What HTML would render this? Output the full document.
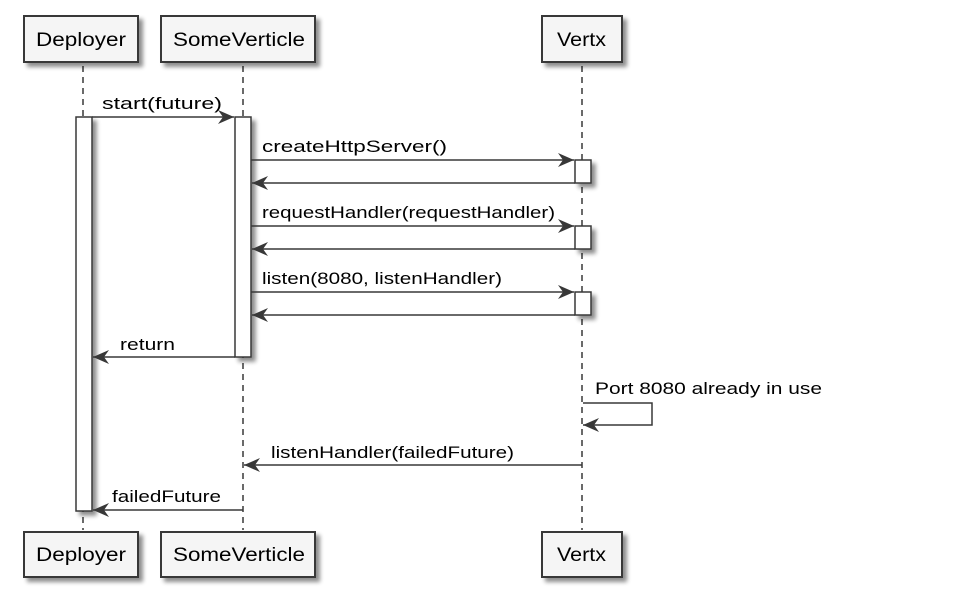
<!DOCTYPE html>
<html><head><style>body{margin:0;background:#fff}svg{display:block}</style></head><body>
<svg width="956" height="610" xmlns="http://www.w3.org/2000/svg" font-family="Liberation Sans, sans-serif" font-size="17">
<defs>
<filter id="sh" x="-20%" y="-20%" width="150%" height="150%"><feGaussianBlur in="SourceAlpha" stdDeviation="2"/><feOffset dx="4" dy="4"/><feComponentTransfer><feFuncA type="linear" slope="0.45"/></feComponentTransfer><feMerge><feMergeNode/><feMergeNode in="SourceGraphic"/></feMerge></filter>
<marker id="a" markerWidth="18" markerHeight="16" refX="16" refY="8" orient="auto" markerUnits="userSpaceOnUse"><path d="M0,1 L16,8 L0,15 L5,8 Z" fill="#383838"/></marker>
</defs>
<g stroke="#383838" stroke-width="1.5" stroke-dasharray="6,5">
<line x1="83" y1="66" x2="83" y2="530"/><line x1="243" y1="66" x2="243" y2="530"/><line x1="582" y1="66" x2="582" y2="530"/>
</g>
<g fill="#f5f5f5" stroke="#383838" stroke-width="2" filter="url(#sh)">
<rect x="24" y="16" width="114" height="46"/><rect x="161" y="16" width="154" height="46"/><rect x="542" y="16" width="80" height="46"/>
<rect x="24" y="532" width="114" height="45"/><rect x="161" y="532" width="154" height="45"/><rect x="542" y="532" width="80" height="45"/>
</g>
<g fill="#fff" stroke="#383838" stroke-width="1.5" filter="url(#sh)">
<rect x="76" y="117" width="16" height="394"/><rect x="235" y="117" width="16" height="240"/>
<rect x="575" y="160" width="16" height="23"/><rect x="575" y="226" width="16" height="23"/><rect x="575" y="292" width="16" height="23"/>
</g>
<g fill="#000" font-size="19">
<text x="36" y="46" textLength="90" lengthAdjust="spacingAndGlyphs">Deployer</text>
<text x="173" y="46" textLength="132" lengthAdjust="spacingAndGlyphs">SomeVerticle</text>
<text x="557" y="46" textLength="49" lengthAdjust="spacingAndGlyphs">Vertx</text>
<text x="36" y="561" textLength="90" lengthAdjust="spacingAndGlyphs">Deployer</text>
<text x="173" y="561" textLength="132" lengthAdjust="spacingAndGlyphs">SomeVerticle</text>
<text x="557" y="561" textLength="49" lengthAdjust="spacingAndGlyphs">Vertx</text>
</g>
<g stroke="#383838" stroke-width="1.5" fill="none" marker-end="url(#a)">
<line x1="92" y1="117" x2="234" y2="117"/>
<line x1="251" y1="160" x2="574" y2="160"/><line x1="575" y1="183" x2="252" y2="183"/>
<line x1="251" y1="226" x2="574" y2="226"/><line x1="575" y1="249" x2="252" y2="249"/>
<line x1="251" y1="292" x2="574" y2="292"/><line x1="575" y1="315" x2="252" y2="315"/>
<line x1="235" y1="357" x2="93" y2="357"/>
<polyline points="583,403 652,403 652,425 583,425"/>
<line x1="582" y1="465" x2="244" y2="465"/>
<line x1="243" y1="510" x2="93" y2="510"/>
</g>
<g fill="#000">
<text x="102" y="109" textLength="120" lengthAdjust="spacingAndGlyphs">start(future)</text>
<text x="262" y="152" textLength="185" lengthAdjust="spacingAndGlyphs">createHttpServer()</text>
<text x="262" y="218" textLength="293" lengthAdjust="spacingAndGlyphs">requestHandler(requestHandler)</text>
<text x="262" y="284" textLength="240" lengthAdjust="spacingAndGlyphs">listen(8080, listenHandler)</text>
<text x="120" y="350" textLength="55" lengthAdjust="spacingAndGlyphs">return</text>
<text x="595" y="394" textLength="227" lengthAdjust="spacingAndGlyphs">Port 8080 already in use</text>
<text x="271" y="458" textLength="243" lengthAdjust="spacingAndGlyphs">listenHandler(failedFuture)</text>
<text x="112" y="502" textLength="109" lengthAdjust="spacingAndGlyphs">failedFuture</text>
</g>
</svg>
</body></html>
